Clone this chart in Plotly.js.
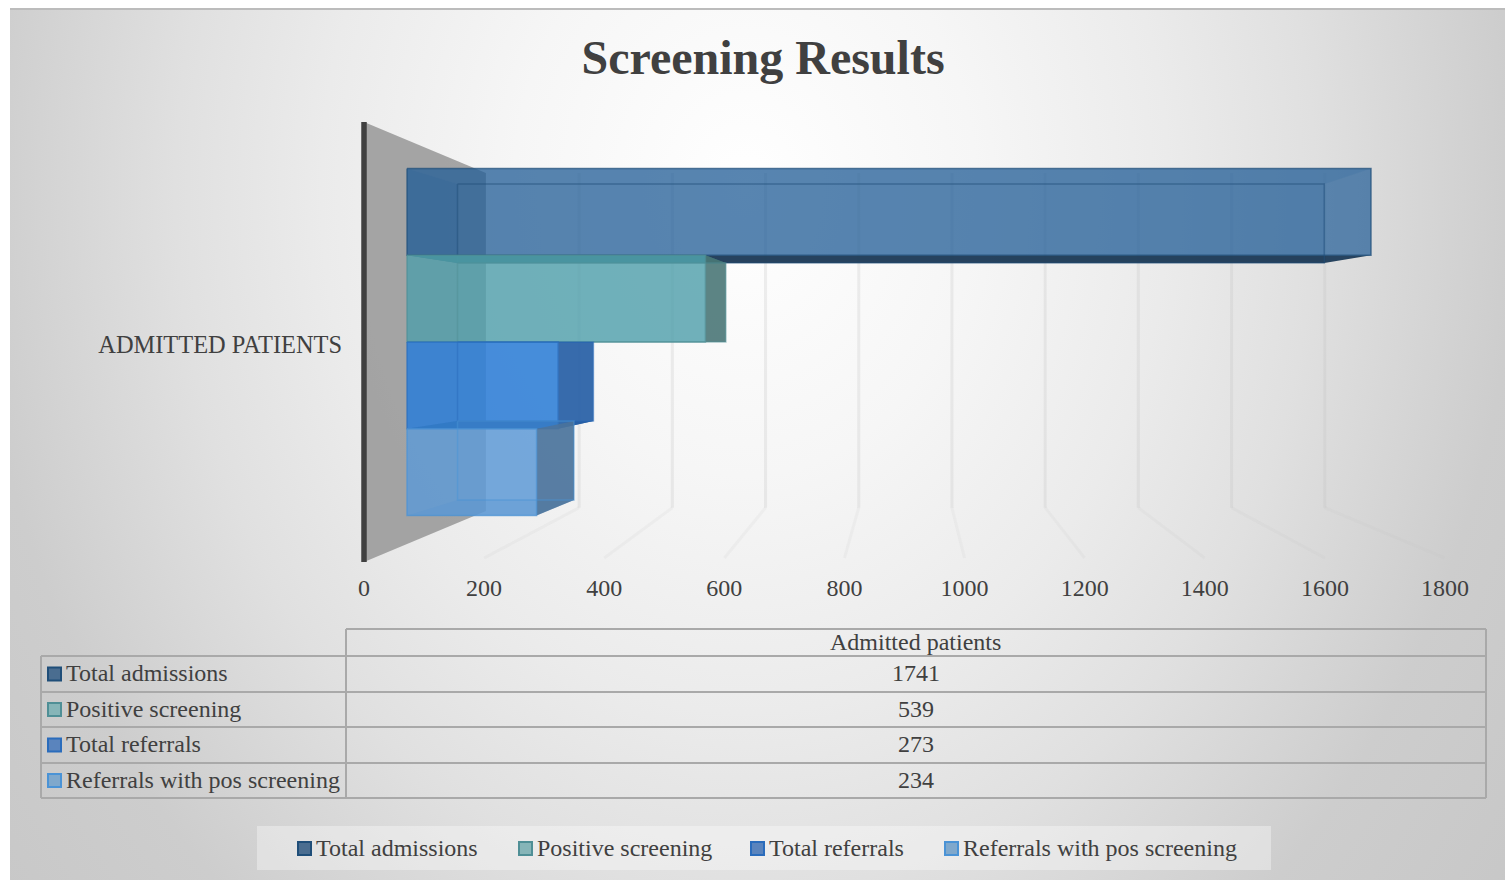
<!DOCTYPE html>
<html>
<head>
<meta charset="utf-8">
<title>Screening Results</title>
<script src="https://cdn.plot.ly/plotly-3.0.1.min.js"></script>
<style>
  html, body { margin: 0; padding: 0; background: #ffffff; }
  #frame {
    position: absolute; left: 10px; top: 8px; width: 1495px; height: 872px;
    border-top: 2px solid #bcbcbc; box-sizing: border-box;
    background: radial-gradient(ellipse 770px 950px at 735px 180px,
      #ffffff 0%, #f6f6f6 30%, #ebebeb 55%, #e0e0e0 74%, #cdcdcd 100%, #c6c6c6 130%);
  }
  #chart { position: absolute; left: 0; top: 0; width: 1505px; height: 880px; }
</style>
</head>
<body>
<div id="frame"></div>
<div id="chart"></div>
<script>
// Series and table content
const seriesNames = ['Total admissions', 'Positive screening', 'Total referrals', 'Referrals with pos screening'];
const seriesValues = [1741, 539, 273, 234];
const categoryName = 'Admitted patients';
const categoryAxisLabel = 'ADMITTED PATIENTS';
const valueTicks = [0, 200, 400, 600, 800, 1000, 1200, 1400, 1600, 1800];

// Fill colours per series: near face, far face, top, bottom, end cap, left cap
const faceColors = [
  { near: 'rgba(35,95,154,0.70)',   far: 'rgba(31,78,121,0.20)',  top: 'rgba(31,78,121,0.20)',  bottom: 'rgba(28,58,86,0.95)',  end: 'rgba(31,78,121,0.05)',  left: 'rgba(31,78,121,0.30)' },
  { near: 'rgba(80,160,172,0.75)',  far: 'rgba(70,145,155,0.25)', top: 'rgba(62,130,135,0.75)', bottom: 'rgba(62,130,135,0.40)', end: 'rgba(72,115,115,0.85)', left: 'rgba(60,130,135,0.18)' },
  { near: 'rgba(48,128,215,0.85)',  far: 'rgba(40,110,200,0.25)', top: 'rgba(40,105,185,0.50)', bottom: 'rgba(25,90,165,0.95)',  end: 'rgba(40,95,165,0.90)',  left: 'rgba(30,95,175,0.20)' },
  { near: 'rgba(95,155,215,0.80)',  far: 'rgba(80,140,205,0.25)', top: 'rgba(60,120,180,0.30)', bottom: 'rgba(55,115,175,0.40)', end: 'rgba(75,115,155,0.90)', left: 'rgba(60,130,190,0.15)' }
];
const keyColors = [
  { border: '#1f4e79', fill: '#4a6d90' },
  { border: '#4f8f96', fill: '#86b5b8' },
  { border: '#2a6cbc', fill: '#5a84bd' },
  { border: '#4a93d6', fill: '#7fa8cc' }
];

const wallColor = 'rgba(150,150,150,0.85)';
const axisDark = '#404040';
const textColor = '#404040';
const gridColor = 'rgba(190,190,190,0.25)';
const floorColor = 'rgba(190,190,190,0.13)';
const tableLine = '#a9a9a9';
const serif = '"Liberation Serif", "Times New Roman", serif';

// Depth planes of the oblique view, expressed in axis units.
// A value v on a plane lands at offset + kx * v; a slot position s at ky * s.
const planes = {
  front: { offset: 0,     kx: 1,     ky: 1 },
  near:  { offset: 71.6,  kx: 0.922, ky: 1 },
  far:   { offset: 155.7, kx: 0.829, ky: 0.91 },
  back:  { offset: 203,   kx: 0.776, ky: 0.768 }
};
const px = (p, v) => planes[p].offset + planes[p].kx * v;
const py = (p, s) => planes[p].ky * s;

const traces = [];
function poly(points, color) {
  traces.push({
    type: 'scatter', mode: 'lines', fill: 'toself', fillcolor: color,
    x: points.map(p => p[0]).concat(points[0][0]),
    y: points.map(p => p[1]).concat(points[0][1]),
    line: { width: 0 }, hoverinfo: 'skip', showlegend: false
  });
}
function outline(points, color, width, opacity) {
  traces.push({
    type: 'scatter', mode: 'lines',
    x: points.map(p => p[0]).concat(points[0][0]),
    y: points.map(p => p[1]).concat(points[0][1]),
    line: { color: color, width: width }, opacity: opacity, hoverinfo: 'skip', showlegend: false
  });
}

// Side wall
const wallTop = 2.536;
poly([[0, wallTop], [px('back', 0), wallTop * planes.back.ky], [px('back', 0), -wallTop * planes.back.ky], [0, -wallTop]], wallColor);

// Wall gridlines and their run across the floor towards the tick labels
const gx = [], gy = [], fx = [], fy = [];
valueTicks.slice(1).forEach(v => {
  gx.push(px('back', v), px('back', v), null);
  gy.push(wallTop * planes.back.ky, -1.91, null);
  fx.push(px('back', v), px('front', v), null);
  fy.push(-1.91, -2.49, null);
});
traces.push({ type: 'scatter', mode: 'lines', x: gx, y: gy, line: { color: gridColor, width: 3 }, hoverinfo: 'skip', showlegend: false });
traces.push({ type: 'scatter', mode: 'lines', x: fx, y: fy, line: { color: floorColor, width: 3 }, hoverinfo: 'skip', showlegend: false });

// One box per series, stacked from the top slot downward
seriesValues.forEach((value, i) => {
  const hi = 2 - i, lo = 1 - i;
  const c = faceColors[i];
  const nl = px('near', 0), nr = px('near', value), fl = px('far', 0), fr = px('far', value);
  const nh = py('near', hi), nb = py('near', lo), fh = py('far', hi), fb = py('far', lo);
  const farFace = [[fl, fh], [fr, fh], [fr, fb], [fl, fb]];
  const nearFace = [[nl, nh], [nr, nh], [nr, nb], [nl, nb]];
  poly(farFace, c.far);
  poly([[nl, nb], [nr, nb], [fr, fb], [fl, fb]], c.bottom);
  poly([[nl, nh], [nr, nh], [fr, fh], [fl, fh]], c.top);
  poly([[nl, nh], [fl, fh], [fl, fb], [nl, nb]], c.left);
  poly(nearFace, c.near);
  poly([[nr, nh], [fr, fh], [fr, fb], [nr, nb]], c.end);
  outline(farFace, keyColors[i].border, 1.5, 0.5);
  outline(nearFace, keyColors[i].border, 1.5, 0.7);
});

// Page-pixel helpers for the spine, data table and legend; paper space spans the plot area
const W = 1505, H = 880;
const margin = { l: 364, r: 60, t: 122, b: 318 };
const plotW = W - margin.l - margin.r, plotH = H - margin.t - margin.b;
const xp = x => (x - margin.l) / plotW;
const yp = y => 1 - (y - margin.t) / plotH;
const shapes = [], annotations = [];
function hline(x0, x1, y) { shapes.push({ type: 'line', xref: 'paper', yref: 'paper', x0: xp(x0), x1: xp(x1), y0: yp(y), y1: yp(y), line: { color: tableLine, width: 2 } }); }
function vline(x, y0, y1) { shapes.push({ type: 'line', xref: 'paper', yref: 'paper', x0: xp(x), x1: xp(x), y0: yp(y0), y1: yp(y1), line: { color: tableLine, width: 2 } }); }
function label(text, x, y, anchor, size) {
  annotations.push({ xref: 'paper', yref: 'paper', x: xp(x), y: yp(y - 1), text: text, showarrow: false, xanchor: anchor, yanchor: 'middle', font: { family: serif, size: size || 24, color: textColor } });
}
function key(x, y, i) {
  shapes.push({ type: 'rect', xref: 'paper', yref: 'paper', x0: xp(x), x1: xp(x + 13), y0: yp(y - 6.5), y1: yp(y + 6.5), fillcolor: keyColors[i].fill, line: { color: keyColors[i].border, width: 2 } });
}

// Vertical axis spine
shapes.push({ type: 'line', xref: 'paper', yref: 'paper', x0: 0, x1: 0, y0: 0, y1: 1, line: { color: axisDark, width: 5.5 } });

// Data table
const tableLeft = 41, tableSplit = 346, tableRight = 1486, tableTop = 629;
const rowEdges = [656, 692, 727, 763, 798];
hline(tableSplit, tableRight, tableTop);
rowEdges.forEach(y => hline(tableLeft, tableRight, y));
vline(tableRight, tableTop, rowEdges[4]);
vline(tableSplit, tableTop, rowEdges[4]);
vline(tableLeft, rowEdges[0], rowEdges[4]);
const valueCentre = (tableSplit + tableRight) / 2 - 0.5;
label(categoryName, valueCentre, 643, 'center');
seriesNames.forEach((name, i) => {
  const mid = (rowEdges[i] + rowEdges[i + 1]) / 2;
  key(48, mid, i);
  label(name, 63.5, mid, 'left');
  label(String(seriesValues[i]), valueCentre, mid, 'center');
});

// Legend strip under the table
shapes.push({ type: 'rect', xref: 'paper', yref: 'paper', x0: xp(257), x1: xp(1271), y0: yp(826), y1: yp(870), fillcolor: 'rgba(255,255,255,0.35)', line: { width: 0 }, layer: 'below' });
const legendKeyX = [298, 519, 751, 945];
seriesNames.forEach((name, i) => {
  key(legendKeyX[i], 848.5, i);
  label(name, legendKeyX[i] + 15.5, 848.5, 'left');
});

const layout = {
  width: W, height: H, autosize: false,
  paper_bgcolor: 'rgba(0,0,0,0)', plot_bgcolor: 'rgba(0,0,0,0)',
  margin: { l: margin.l, r: margin.r, t: margin.t, b: margin.b, pad: 0 },
  showlegend: false,
  title: { text: '<b>Screening Results</b>', x: 763 / W, xanchor: 'center', y: 1 - 57 / H, yanchor: 'middle', font: { family: serif, size: 48, color: textColor } },
  font: { family: serif, size: 24, color: textColor },
  xaxis: {
    range: [0, 1800], tickvals: valueTicks, ticktext: valueTicks.map(String),
    showgrid: false, zeroline: false, showline: false, ticks: '', ticklabelstandoff: 9,
    tickfont: { family: serif, size: 24, color: textColor }, fixedrange: true
  },
  yaxis: {
    range: [-wallTop, wallTop], tickvals: [-0.025], ticktext: [categoryAxisLabel],
    showgrid: false, zeroline: false, showline: false, ticks: '', ticklabelstandoff: 21,
    tickfont: { family: serif, size: 24.4, color: textColor }, fixedrange: true
  },
  shapes: shapes, annotations: annotations
};

Plotly.newPlot('chart', traces, layout, { displayModeBar: false, staticPlot: true });
</script>
</body>
</html>
